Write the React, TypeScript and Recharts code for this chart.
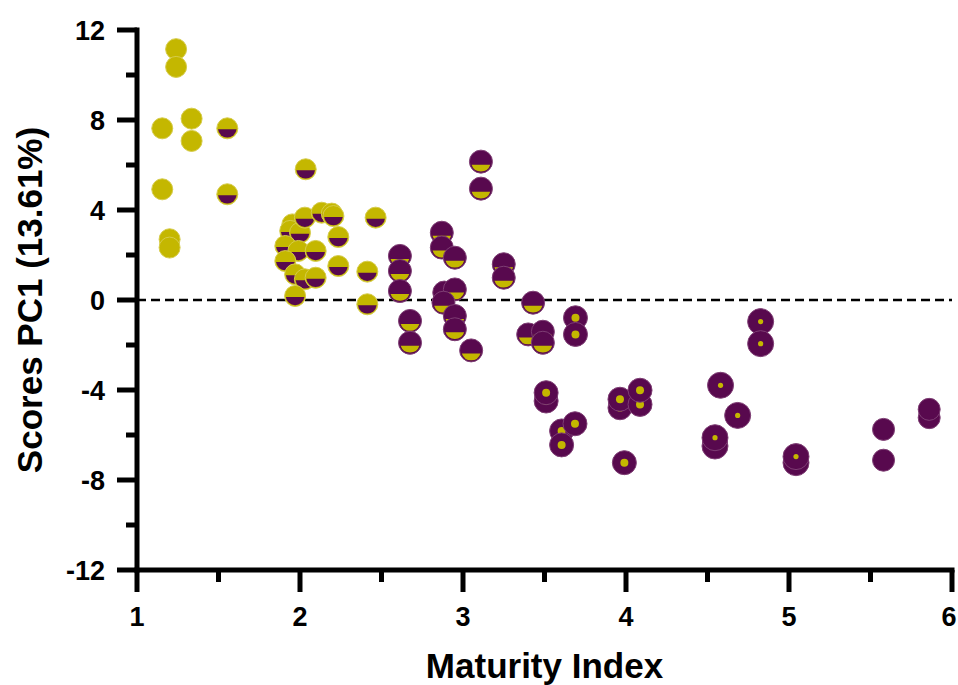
import React from 'react';
import { ScatterChart, Scatter, XAxis, YAxis, ReferenceLine } from 'recharts';

const YELLOW = '#C4B700';
const YELLOW_RIM = '#D6CC4A';
const PURPLE = '#58094E';
const PURPLE_RIM = '#7E3E74';
const FONT = '"Liberation Sans", Arial, Helvetica, sans-serif';

// axis ticks (halves / every 2 are the short minor ticks)
const xTicks = [1, 1.5, 2, 2.5, 3, 3.5, 4, 4.5, 5, 5.5, 6];
const yTicks = [-12, -10, -8, -6, -4, -2, 0, 2, 4, 6, 8, 10, 12];

// solid yellow
const yellowSolid = [
  { x: 1.24, y: 11.15 }, { x: 1.24, y: 10.36 }, { x: 1.155, y: 7.63 },
  { x: 1.335, y: 8.06 }, { x: 1.335, y: 7.07 }, { x: 1.155, y: 4.92 },
  { x: 1.2, y: 2.7 }, { x: 1.2, y: 2.33 },
];

// yellow with purple lower half
const yellowHalf = [
  { x: 1.554, y: 7.63 }, { x: 1.554, y: 4.7 }, { x: 2.035, y: 5.81 },
  { x: 1.953, y: 3.36 }, { x: 1.94, y: 3.07 }, { x: 2.0, y: 2.99 },
  { x: 2.03, y: 3.66 }, { x: 2.133, y: 3.88 }, { x: 2.195, y: 3.84 },
  { x: 2.205, y: 3.73 }, { x: 1.91, y: 2.4 }, { x: 1.99, y: 2.18 },
  { x: 2.096, y: 2.18 }, { x: 2.235, y: 2.8 }, { x: 1.91, y: 1.73 },
  { x: 1.97, y: 1.14 }, { x: 2.03, y: 0.92 }, { x: 2.096, y: 0.99 },
  { x: 2.235, y: 1.51 }, { x: 1.97, y: 0.18 }, { x: 2.464, y: 3.66 },
  { x: 2.413, y: 1.26 }, { x: 2.413, y: -0.19 },
];

// purple with yellow lower half
const purpleHalf = [
  { x: 2.613, y: 1.96 }, { x: 2.613, y: 1.29 }, { x: 2.613, y: 0.4 },
  { x: 3.11, y: 6.15 }, { x: 3.11, y: 4.95 }, { x: 2.87, y: 2.99 },
  { x: 2.87, y: 2.33 }, { x: 2.95, y: 1.88 }, { x: 3.25, y: 1.59 },
  { x: 3.25, y: 0.99 }, { x: 2.885, y: 0.33 }, { x: 2.95, y: 0.47 },
  { x: 2.88, y: -0.12 }, { x: 2.95, y: -0.71 }, { x: 2.95, y: -1.3 },
  { x: 2.675, y: -0.93 }, { x: 2.675, y: -1.9 }, { x: 3.05, y: -2.24 },
  { x: 3.43, y: -0.12 }, { x: 3.4, y: -1.53 }, { x: 3.49, y: -1.41 },
  { x: 3.49, y: -1.9 },
];

// purple with a yellow dot (larger dot)
const purpleDotA = [
  { x: 3.69, y: -0.79 }, { x: 3.69, y: -1.53 }, { x: 3.51, y: -4.49 },
  { x: 3.51, y: -4.12 }, { x: 3.605, y: -5.82 }, { x: 3.605, y: -6.44 },
  { x: 3.687, y: -5.5 }, { x: 3.963, y: -4.79 }, { x: 3.963, y: -4.41 },
  { x: 4.086, y: -4.64 }, { x: 4.086, y: -4.01 }, { x: 3.99, y: -7.23 },
];

// purple with a small yellow dot
const purpleDotB = [
  { x: 4.58, y: -3.79 }, { x: 4.685, y: -5.13 }, { x: 4.546, y: -6.49 },
  { x: 4.546, y: -6.12 }, { x: 4.826, y: -0.96 }, { x: 4.826, y: -1.94 },
  { x: 5.043, y: -7.23 }, { x: 5.043, y: -6.96 },
];

// solid purple
const purpleSolid = [
  { x: 5.58, y: -5.75 }, { x: 5.58, y: -7.12 },
  { x: 5.86, y: -5.23 }, { x: 5.86, y: -4.86 },
];

function segment(cx: number, cy: number, r: number, d: number) {
  const w = Math.sqrt(r * r - d * d);
  return `M${cx - w},${cy + d} A${r},${r} 0 0 0 ${cx + w},${cy + d} Z`;
}

const SolidYellow = (p: any) => (
  <circle cx={p.cx} cy={p.cy} r={10.5} fill={YELLOW} stroke={YELLOW_RIM} strokeWidth={1} />
);

const HalfYellow = (p: any) => (
  <g>
    <circle cx={p.cx} cy={p.cy} r={10.5} fill={YELLOW} stroke={YELLOW_RIM} strokeWidth={1} />
    <path d={segment(p.cx, p.cy, 9.3, 1)} fill={PURPLE} />
  </g>
);

const HalfPurple = (p: any) => (
  <g>
    <circle cx={p.cx} cy={p.cy} r={11.5} fill={PURPLE} stroke={PURPLE_RIM} strokeWidth={1} />
    <path d={segment(p.cx, p.cy, 9.8, 3)} fill={YELLOW} />
  </g>
);

const DotPurpleA = (p: any) => (
  <g>
    <circle cx={p.cx} cy={p.cy} r={12} fill={PURPLE} stroke={PURPLE_RIM} strokeWidth={1} />
    <circle cx={p.cx} cy={p.cy} r={4} fill={YELLOW} />
  </g>
);

const DotPurpleB = (p: any) => (
  <g>
    <circle cx={p.cx} cy={p.cy} r={13} fill={PURPLE} stroke={PURPLE_RIM} strokeWidth={1} />
    <circle cx={p.cx} cy={p.cy} r={2.6} fill={YELLOW} />
  </g>
);

const SolidPurple = (p: any) => (
  <circle cx={p.cx} cy={p.cy} r={11} fill={PURPLE} stroke={PURPLE_RIM} strokeWidth={1} />
);

function XTick(props: any) {
  const { x, y, payload } = props;
  const major = Number.isInteger(payload.value);
  // keep the last label inside the picture edge
  const tx = payload.value === 6 ? x - 3 : x;
  return (
    <g>
      <line x1={x} x2={x} y1={y} y2={y + (major ? 22 : 12)} stroke="#000" strokeWidth={5} />
      {major && (
        <text x={tx} y={y + 56} textAnchor="middle" fontSize={27} fontWeight="bold" fontFamily={FONT} fill="#000">
          {payload.value}
        </text>
      )}
    </g>
  );
}

function YTick(props: any) {
  const { x, y, payload } = props;
  const major = payload.value % 4 === 0;
  return (
    <g>
      <line x1={x} x2={x - (major ? 20 : 11)} y1={y} y2={y} stroke="#000" strokeWidth={5} />
      {major && (
        <text x={x - 32} y={y} dy="0.36em" textAnchor="end" fontSize={27} fontWeight="bold" fontFamily={FONT} fill="#000">
          {payload.value}
        </text>
      )}
    </g>
  );
}

export default function App() {
  return (
    <div style={{ position: 'absolute', left: 0, top: 0, width: 958, height: 685, background: '#fff' }}>
      <ScatterChart width={958} height={685} margin={{ top: 30, right: 6, bottom: 0, left: 0 }}>
        <XAxis
          type="number"
          dataKey="x"
          domain={[1, 6]}
          ticks={xTicks}
          interval={0}
          height={115}
          tickSize={0}
          tickMargin={0}
          tickLine={false}
          tick={<XTick />}
          axisLine={{ stroke: '#000', strokeWidth: 5, strokeLinecap: 'square' }}
          label={{
            value: 'Maturity Index',
            position: 'insideBottom',
            offset: 7,
            style: { fontSize: 35, fontWeight: 'bold', fontFamily: FONT, fill: '#000' },
          }}
        />
        <YAxis
          type="number"
          dataKey="y"
          domain={[-12, 12]}
          ticks={yTicks}
          interval={0}
          width={137}
          tickSize={0}
          tickMargin={0}
          tickLine={false}
          tick={<YTick />}
          axisLine={{ stroke: '#000', strokeWidth: 5, strokeLinecap: 'square' }}
          label={{
            value: 'Scores PC1 (13.61%)',
            angle: -90,
            position: 'insideLeft',
            offset: 30,
            style: { textAnchor: 'middle', fontSize: 35, fontWeight: 'bold', fontFamily: FONT, fill: '#000' },
          }}
        />
        <ReferenceLine y={0} stroke="#000" strokeWidth={2.5} strokeDasharray="9 5" />
        <Scatter data={yellowSolid} shape={SolidYellow} isAnimationActive={false} />
        <Scatter data={yellowHalf} shape={HalfYellow} isAnimationActive={false} />
        <Scatter data={purpleHalf} shape={HalfPurple} isAnimationActive={false} />
        <Scatter data={purpleDotA} shape={DotPurpleA} isAnimationActive={false} />
        <Scatter data={purpleDotB} shape={DotPurpleB} isAnimationActive={false} />
        <Scatter data={purpleSolid} shape={SolidPurple} isAnimationActive={false} />
      </ScatterChart>
    </div>
  );
}
